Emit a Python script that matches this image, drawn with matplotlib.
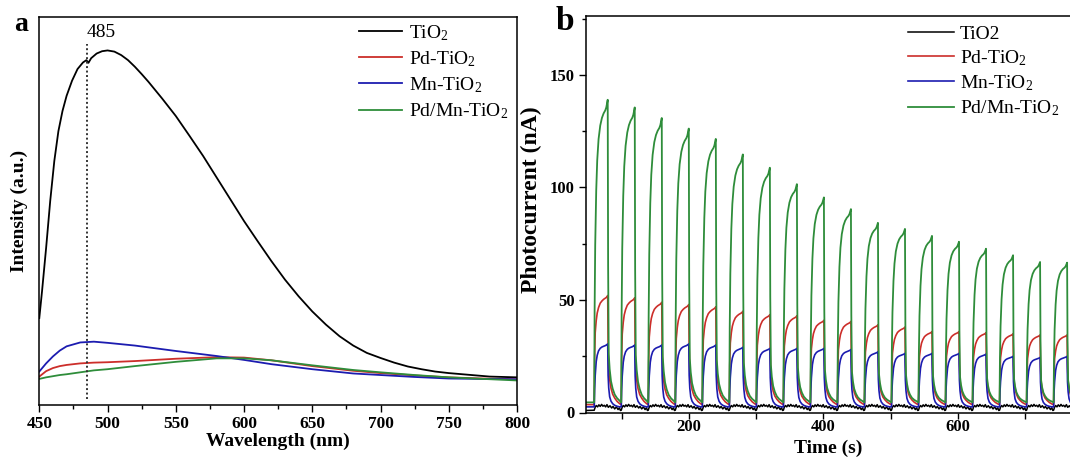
import numpy as np
import matplotlib.pyplot as plt
from matplotlib.ticker import MultipleLocator, NullLocator
from matplotlib.patches import Rectangle

plt.rcParams['font.family'] = 'Liberation Serif'
plt.rcParams['mathtext.fontset'] = 'custom'
plt.rcParams['mathtext.rm'] = 'Liberation Serif'
plt.rcParams['mathtext.it'] = 'Liberation Serif:italic'
plt.rcParams['mathtext.bf'] = 'Liberation Serif:bold'

# ---- (a) PL spectra ----
wl_tio2 = [450, 452, 455, 458, 461, 464, 467, 470, 474, 478, 482, 484.5, 486, 488, 492, 496,
           500, 505, 510, 515, 520, 525, 530, 540, 550, 560, 570, 580, 590, 600, 610, 620,
           630, 640, 650, 660, 670, 680, 690, 700, 710, 720, 730, 740, 750, 760, 770, 780,
           790, 800]
pl_tio2 = [22.3, 29.2, 40.4, 52.5, 62.8, 70.5, 75.7, 79.6, 83.5, 86.5, 88.2, 88.8, 88.1, 89.3,
           90.5, 91.1, 91.3, 91.0, 90.1, 88.8, 87.1, 85.2, 83.2, 78.9, 74.4, 69.3, 64.1, 58.5,
           52.9, 47.3, 42.1, 37.0, 32.2, 27.9, 24.0, 20.6, 17.6, 15.2, 13.3, 12.0, 10.8, 9.8,
           9.1, 8.5, 8.1, 7.8, 7.5, 7.2, 7.1, 7.0]

wl_doped = [450, 455, 460, 465, 470, 480, 490, 500, 520, 550, 580, 600, 620, 650, 680, 700,
            725, 750, 775, 800]
pl_pd = [7.2, 8.6, 9.4, 9.9, 10.2, 10.6, 10.8, 10.9, 11.2, 11.8, 12.2, 12.1, 11.4, 9.9, 8.7,
         8.1, 7.5, 7.0, 6.7, 6.5]
pl_mn = [8.5, 10.6, 12.4, 13.9, 15.0, 16.0, 16.2, 15.9, 15.2, 13.8, 12.5, 11.5, 10.4, 9.1,
         8.0, 7.6, 7.1, 6.7, 6.6, 6.5]
pl_pdmn = [6.6, 7.0, 7.3, 7.6, 7.8, 8.3, 8.8, 9.1, 9.9, 11.0, 11.9, 11.9, 11.4, 10.1, 8.9,
           8.3, 7.6, 7.0, 6.6, 6.2]
peak_wl = 485

# ---- (b) transient photocurrent ----
t_start = 47
first_on = 59.2
period = 40.2
# time points inside one on/off cycle and the response shape (fraction of the peak)
cycle_dt = [0.0, 0.6, 1.5, 3.0, 4.5, 6.5, 9.0, 11.5, 14.0, 16.5, 18.0, 19.2, 20.1, 20.7,
            21.6, 23.0, 25.0, 27.5, 30.5, 34.0, 38.0]
shape_pdmn = [0, 0.30, 0.52, 0.70, 0.80, 0.87, 0.915, 0.94, 0.955, 0.965, 0.975, 0.99, 1.0,
              0.45, 0.16, 0.11, 0.07, 0.045, 0.026, 0.014, 0.005]
shape_pd = [0, 0.42, 0.66, 0.77, 0.84, 0.89, 0.93, 0.95, 0.965, 0.975, 0.982, 0.99, 1.0, 0.55,
            0.33, 0.23, 0.15, 0.095, 0.06, 0.03, 0.008]
shape_mn = [0, 0.28, 0.50, 0.72, 0.82, 0.89, 0.93, 0.95, 0.962, 0.972, 0.982, 0.99, 1.0,
            0.50, 0.30, 0.16, 0.09, 0.05, 0.025, 0.01, 0.0]

peaks_pdmn = [139, 135.6, 130.9, 126.2, 121.6, 114.7, 108.8, 101.5, 95.6, 90.4, 84.3, 81.6,
              78.5, 75.9, 72.8, 69.9, 66.9, 66.6]
peaks_pd = [52, 51, 49, 48, 47, 45, 43.5, 43, 41, 40.5, 39, 38, 36, 36, 35.5, 35, 34.5, 34.5]
peaks_mn = [30.5, 30, 30, 30.5, 30, 29, 28.5, 28.5, 28.5, 28, 27, 26.3, 26.3, 26.3, 26, 25,
            24.5, 25]
base_pdmn, base_pd, base_mn = 4.5, 3.5, 2.5

# bare TiO2 stays near the noise floor
tio2_dt = [0, 1.5, 3, 5, 7, 9, 11, 13, 15, 17, 19, 21, 23.5, 26, 28, 30.5, 33, 35.5, 37.5, 39]
tio2_level = [1.0, 2.4, 3.1, 2.5, 3.4, 2.7, 3.6, 2.8, 3.2, 2.5, 3.5, 2.3, 3.0, 2.0, 2.7, 1.6,
              2.5, 1.3, 2.1, 0.9]

labels_a = ['TiO$_2$', 'Pd-TiO$_2$', 'Mn-TiO$_2$', 'Pd/Mn-TiO$_2$']
labels_b = ['TiO2', 'Pd-TiO$_2$', 'Mn-TiO$_2$', 'Pd/Mn-TiO$_2$']
colors = ['black', '#cc2e2a', '#1c1cb0', '#2e8d3a']


def build_trace(peaks, base, shape):
    t = [t_start]
    v = [base]
    for k, p in enumerate(peaks):
        t.extend(first_on + k * period + np.array(cycle_dt))
        v.extend(base + (p - base) * np.array(shape))
    return np.array(t), np.array(v)


def build_tio2(n_cycles):
    t = [t_start]
    v = [tio2_level[-1]]
    for k in range(n_cycles):
        t.extend(first_on + k * period + np.array(tio2_dt))
        v.extend(tio2_level)
    return np.array(t), np.array(v)


W, H = 1070, 463
fig = plt.figure(figsize=(W / 100, H / 100), dpi=100)

ax_a = fig.add_axes([39.3 / W, (H - 404.5) / H, (517 - 39.3) / W, (404.5 - 16.7) / H])
ax_b = fig.add_axes([586 / W, (H - 412.5) / H, (W - 586) / W, (412.5 - 16.5) / H])
ax_a.set_zorder(0)
ax_b.set_zorder(2)
# panel b sits on top of the clipped end of panel a's axis labels
fig.patches.append(Rectangle((530 / W, 0), 1 - 530 / W, 1, transform=fig.transFigure,
                             facecolor='white', edgecolor='none', zorder=1))

# panel a
ax_a.plot(wl_tio2, pl_tio2, color=colors[0], lw=1.3, label=labels_a[0])
ax_a.plot(wl_doped, pl_pd, color=colors[1], lw=1.3, label=labels_a[1])
ax_a.plot(wl_doped, pl_mn, color=colors[2], lw=1.3, label=labels_a[2])
ax_a.plot(wl_doped, pl_pdmn, color=colors[3], lw=1.3, label=labels_a[3])
ax_a.axvline(peak_wl, ymin=0.015, ymax=0.93, color='#333333', lw=1.4, ls=(0, (1, 1.3)))
ax_a.text(peak_wl, 96, str(peak_wl), ha='left', va='center', fontsize=14)

ax_a.set_xlim(450, 800)
ax_a.set_ylim(0, 100)
ax_a.xaxis.set_major_locator(MultipleLocator(50))
ax_a.xaxis.set_minor_locator(MultipleLocator(25))
ax_a.yaxis.set_major_locator(NullLocator())
ax_a.tick_params(axis='x', which='major', direction='out', length=5, width=1, pad=3,
                 labelsize=12.5)
ax_a.tick_params(axis='x', which='minor', direction='out', length=3, width=1)
for lab in ax_a.get_xticklabels():
    lab.set_fontweight('bold')
ax_a.set_xlabel('Wavelength (nm)', fontsize=14, fontweight='bold', labelpad=1)
ax_a.set_ylabel('Intensity (a.u.)', fontsize=14, fontweight='bold', labelpad=8)
for sp in ax_a.spines.values():
    sp.set_linewidth(1.1)
ax_a.legend(loc='upper left', bbox_to_anchor=(359 / W, 1 - 23 / H), bbox_transform=fig.transFigure,
            frameon=False, fontsize=14, handlelength=2.2, handletextpad=0.35,
            labelspacing=0.33, borderpad=0, borderaxespad=0)

# panel b
t_tio2, i_tio2 = build_tio2(len(peaks_pdmn))
t_pd, i_pd = build_trace(peaks_pd, base_pd, shape_pd)
t_mn, i_mn = build_trace(peaks_mn, base_mn, shape_mn)
t_pdmn, i_pdmn = build_trace(peaks_pdmn, base_pdmn, shape_pdmn)
ax_b.plot(t_tio2, i_tio2, color=colors[0], lw=1.1, label=labels_b[0])
ax_b.plot(t_pd, i_pd, color=colors[1], lw=1.2, label=labels_b[1])
ax_b.plot(t_mn, i_mn, color=colors[2], lw=1.2, label=labels_b[2])
ax_b.plot(t_pdmn, i_pdmn, color=colors[3], lw=1.3, label=labels_b[3])

ax_b.set_xlim(47, 767)
ax_b.set_ylim(0, 176)
ax_b.xaxis.set_major_locator(MultipleLocator(200))
ax_b.xaxis.set_minor_locator(MultipleLocator(100))
ax_b.yaxis.set_major_locator(MultipleLocator(50))
ax_b.yaxis.set_minor_locator(MultipleLocator(25))
ax_b.tick_params(axis='x', which='both', direction='out', length=4, width=1, pad=1,
                 labelsize=12)
ax_b.tick_params(axis='y', which='major', direction='out', length=5, width=1, pad=3,
                 labelsize=12)
ax_b.tick_params(axis='y', which='minor', direction='out', length=3, width=1)
for lab in ax_b.get_xticklabels() + ax_b.get_yticklabels():
    lab.set_fontweight('bold')
ax_b.spines['right'].set_visible(False)
for sp in ax_b.spines.values():
    sp.set_linewidth(1.1)
ax_b.set_xlabel('Time (s)', fontsize=14, fontweight='bold', labelpad=3)
ax_b.set_ylabel('Photocurrent (nA)', fontsize=17, fontweight='bold')
ax_b.yaxis.set_label_coords(-0.091, 0.537)
ax_b.legend(loc='upper left', bbox_to_anchor=(908 / W, 1 - 25 / H), bbox_transform=fig.transFigure,
            frameon=False, fontsize=14, handlelength=2.35, handletextpad=0.3,
            labelspacing=0.28, borderpad=0, borderaxespad=0)

fig.text(21.5 / W, 1 - 31 / H, 'a', fontsize=20, fontweight='bold', ha='center', va='baseline')
fig.text(565 / W, 1 - 30 / H, 'b', fontsize=24, fontweight='bold', ha='center', va='baseline')

fig.savefig('out.png', dpi=100)
